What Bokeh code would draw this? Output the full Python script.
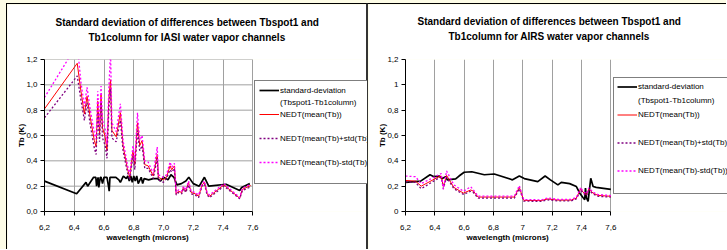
from bokeh.plotting import figure
from bokeh.models import FixedTicker, Legend, LegendItem, Title, Range1d
from bokeh.layouts import row
from bokeh.embed import file_html
from bokeh.resources import INLINE

FONT = "Liberation Sans"

# ---------------- IASI (left) ----------------
iasi_title = ["Standard deviation of differences between Tbspot1 and",
              "Tb1column for IASI water vapor channels"]
iasi_sd_w = [6.20, 6.416, 6.479, 6.49, 6.53, 6.545, 6.55, 6.56, 6.565, 6.575, 6.58, 6.59,
             6.60, 6.61, 6.62, 6.63, 6.635, 6.64, 6.65, 6.68, 6.70, 6.71, 6.73, 6.75, 6.76,
             6.77, 6.78, 6.79, 6.80, 6.81, 6.82, 6.83, 6.85, 6.86, 6.87, 6.90, 6.93, 6.96,
             6.98, 7.00, 7.03, 7.05, 7.07, 7.09, 7.12, 7.15, 7.17, 7.20, 7.24, 7.275, 7.304,
             7.42, 7.512, 7.525, 7.58]
iasi_sd = [0.24, 0.14, 0.23, 0.20, 0.27, 0.27, 0.20, 0.27, 0.19, 0.27, 0.27, 0.22,
           0.27, 0.27, 0.27, 0.20, 0.16, 0.27, 0.27, 0.27, 0.25, 0.23, 0.28, 0.26, 0.28,
           0.24, 0.28, 0.23, 0.28, 0.24, 0.28, 0.22, 0.27, 0.22, 0.26, 0.25, 0.26, 0.26,
           0.24, 0.27, 0.25, 0.29, 0.27, 0.21, 0.22, 0.24, 0.27, 0.22, 0.20, 0.27, 0.20,
           0.215, 0.165, 0.19, 0.22]
iasi_w = [6.20, 6.42, 6.445, 6.468, 6.486, 6.508, 6.535, 6.547, 6.558, 6.57, 6.58, 6.59,
          6.608, 6.62, 6.633, 6.644, 6.653, 6.682, 6.71, 6.728, 6.757, 6.773, 6.795, 6.807,
          6.825, 6.84, 6.856, 6.874, 6.897, 6.931, 6.958, 6.965, 6.999, 7.02, 7.044, 7.055,
          7.073, 7.085, 7.10, 7.123, 7.134, 7.15, 7.168, 7.186, 7.213, 7.236, 7.259, 7.275,
          7.293, 7.309, 7.406, 7.512, 7.53, 7.586]
iasi_nedt = [0.81, 1.17, 0.95, 0.77, 0.91, 0.74, 0.56, 0.51, 0.87, 0.61, 0.92, 0.66,
             0.59, 0.48, 0.90, 1.04, 0.64, 0.59, 0.78, 0.52, 0.34, 0.27, 0.48, 0.37,
             0.70, 0.52, 0.56, 0.37, 0.36, 0.28, 0.45, 0.27, 0.25, 0.27, 0.36, 0.33,
             0.36, 0.14, 0.16, 0.15, 0.19, 0.16, 0.23, 0.15, 0.14, 0.12, 0.21, 0.23,
             0.14, 0.12, 0.21, 0.105, 0.175, 0.205]
iasi_plus = [0.74, 1.07, 0.88, 0.72, 0.86, 0.68, 0.50, 0.45, 0.80, 0.55, 0.86, 0.58,
             0.52, 0.42, 0.82, 0.97, 0.58, 0.55, 0.72, 0.48, 0.31, 0.25, 0.44, 0.33,
             0.64, 0.48, 0.52, 0.34, 0.34, 0.26, 0.42, 0.25, 0.23, 0.26, 0.33, 0.31,
             0.34, 0.13, 0.15, 0.14, 0.18, 0.15, 0.21, 0.14, 0.13, 0.11, 0.20, 0.22,
             0.13, 0.11, 0.20, 0.10, 0.165, 0.195]
iasi_minus = [0.90, 1.32, 1.02, 0.83, 0.98, 0.80, 0.62, 0.57, 0.95, 0.67, 0.99, 0.72,
              0.65, 0.53, 0.98, 1.26, 0.70, 0.63, 0.85, 0.56, 0.37, 0.29, 0.52, 0.40,
              0.78, 0.56, 0.60, 0.40, 0.39, 0.30, 0.51, 0.29, 0.27, 0.29, 0.39, 0.35,
              0.38, 0.15, 0.17, 0.16, 0.20, 0.17, 0.24, 0.16, 0.15, 0.13, 0.22, 0.24,
              0.15, 0.13, 0.22, 0.11, 0.185, 0.215]
iasi_xticks = [6.2, 6.4, 6.6, 6.8, 7.0, 7.2, 7.4, 7.6]
iasi_xlabels = ["6,2", "6,4", "6,6", "6,8", "7,0", "7,2", "7,4", "7,6"]
iasi_yticks = [0.0, 0.2, 0.4, 0.6, 0.8, 1.0, 1.2]
iasi_ylabels = ["0,0", "0,2", "0,4", "0,6", "0,8", "1,0", "1,2"]

# ---------------- AIRS (right) ----------------
airs_title = ["Standard deviation of differences between Tbspot1 and",
              "Tb1column for AIRS water vapor channels"]
airs_sd_w = [6.20, 6.303, 6.367, 6.394, 6.428, 6.45, 6.474, 6.485, 6.542, 6.565, 6.60,
             6.652, 6.737, 6.805, 6.93, 6.976, 7.01, 7.102, 7.152, 7.188, 7.239, 7.262,
             7.319, 7.365, 7.388, 7.41, 7.422, 7.427, 7.434, 7.445, 7.463, 7.479, 7.50, 7.60]
airs_sd = [0.23, 0.24, 0.29, 0.275, 0.28, 0.26, 0.275, 0.25, 0.257, 0.28, 0.31,
           0.314, 0.29, 0.296, 0.25, 0.28, 0.26, 0.236, 0.28, 0.25, 0.21, 0.23,
           0.22, 0.197, 0.145, 0.11, 0.094, 0.185, 0.107, 0.08, 0.262, 0.197, 0.19, 0.174]
airs_w = [6.20, 6.268, 6.307, 6.428, 6.444, 6.458, 6.48, 6.53, 6.595, 6.645, 6.663,
          6.695, 6.942, 6.976, 7.006, 7.125, 7.17, 7.239, 7.33, 7.365, 7.395, 7.41,
          7.434, 7.45, 7.479, 7.513, 7.60]
airs_nedt = [0.245, 0.24, 0.20, 0.275, 0.28, 0.197, 0.285, 0.19, 0.145, 0.17, 0.16,
             0.114, 0.114, 0.19, 0.088, 0.086, 0.099, 0.09, 0.09, 0.106, 0.18, 0.153,
             0.132, 0.177, 0.145, 0.127, 0.12]
airs_plus = [0.235, 0.23, 0.18, 0.265, 0.27, 0.18, 0.27, 0.18, 0.135, 0.16, 0.15,
             0.105, 0.105, 0.18, 0.082, 0.08, 0.092, 0.084, 0.084, 0.10, 0.17, 0.145,
             0.125, 0.168, 0.138, 0.12, 0.113]
airs_minus = [0.28, 0.275, 0.22, 0.29, 0.30, 0.175, 0.32, 0.21, 0.16, 0.195, 0.17,
              0.122, 0.122, 0.205, 0.094, 0.092, 0.106, 0.096, 0.096, 0.112, 0.19, 0.16,
              0.14, 0.186, 0.152, 0.134, 0.126]
airs_xticks = [6.2, 6.4, 6.6, 6.8, 7, 7.2, 7.4, 7.6]
airs_xlabels = ["6,2", "6,4", "6,6", "6,8", "7", "7,2", "7,4", "7,6"]
airs_yticks = [0, 0.2, 0.4, 0.6, 0.8, 1, 1.2]
airs_ylabels = ["0", "0,2", "0,4", "0,6", "0,8", "1", "1,2"]

legend_labels = ["standard-deviation", "(Tbspot1-Tb1column)", "NEDT(mean(Tb))",
                 "NEDT(mean(Tb)+std(Tb))", "NEDT(mean(Tb)-std(Tb))"]
x_axis_label = "wavelength (microns)"
y_axis_label = "Tb (K)"

X0, X1 = 6.2, 7.6


def make_chart(width, css_borders, border_left, border_top, border_bottom, data_px,
               title, title_offsets, spacer_standoff, xlabel_offset,
               sd_w, sd, w, nedt, plus, minus,
               xticks, xlabels, yticks, ylabels, hgrid,
               leg_loc, leg_row_h, leg_spacing, leg_pad, css):
    canvas_w = width - css_borders
    frame_px = canvas_w - border_left
    # the frame runs on to the chart's right edge so the legend sits beside the data area
    x_end = X0 + (X1 - X0) * frame_px / data_px
    p = figure(width=width, height=246, x_range=Range1d(X0, x_end), y_range=Range1d(0, 1.2),
               output_backend="svg", toolbar_location=None, title_location=None,
               min_border_left=border_left, min_border_right=0, min_border_top=border_top,
               min_border_bottom=border_bottom, styles=css)
    p.outline_line_color = None
    p.background_fill_color = "white"
    p.border_fill_color = "white"

    # panels above stack outward from the frame: spacer, title line 2, title line 1
    spacer = Title(text=" ", standoff=spacer_standoff, text_font=FONT,
                   text_font_size="10px")
    p.add_layout(spacer, "above")
    for text, off, so in ((title[1], title_offsets[1], 0), (title[0], title_offsets[0], 3.6)):
        t = Title(text=text, align="left", offset=off, standoff=so,
                  text_font=FONT, text_font_size="10px", text_font_style="bold",
                  text_color="black")
        p.add_layout(t, "above")

    for ax, ticks, labels in ((p.xaxis[0], xticks, xlabels), (p.yaxis[0], yticks, ylabels)):
        ax.ticker = FixedTicker(ticks=ticks)
        ax.major_label_overrides = dict(zip(ticks, labels))
        ax.major_label_text_font = FONT
        ax.major_label_text_font_size = "8px"
        ax.major_label_text_color = "black"
        ax.axis_line_color = "black"
        ax.major_tick_line_color = "black"
        ax.major_tick_out = 4
        ax.major_tick_in = 0
        ax.minor_tick_out = 0
        ax.minor_tick_in = 0
        ax.axis_label_text_font = FONT
        ax.axis_label_text_font_size = "8px"
        ax.axis_label_text_font_style = "bold"
        ax.axis_label_text_color = "black"
    p.xaxis.bounds = (X0, X1)
    p.yaxis.axis_label = y_axis_label
    p.xaxis.major_label_standoff = 9
    p.yaxis.major_label_standoff = 3
    p.yaxis.axis_label_standoff = -3

    # x-axis title centred under the data area (below the tick labels)
    xt = Title(text=x_axis_label, align="left", offset=xlabel_offset, standoff=0,
               vertical_align="top", text_font=FONT, text_font_size="8px",
               text_font_style="bold", text_color="black")
    p.add_layout(xt, "below")

    p.xgrid.grid_line_color = "#a0a0a0"
    p.ygrid.grid_line_color = None
    if hgrid:
        n = len(yticks)
        p.segment(x0=[X0] * n, x1=[X1] * n, y0=yticks, y1=yticks,
                  line_color="#a0a0a0", line_width=1)

    r_sd = p.line(sd_w, sd, line_color="black", line_width=1.7)
    r_nedt = p.line(w, nedt, line_color="#FF0000", line_width=1)
    r_plus = p.line(w, plus, line_color="#800080", line_width=1.3, line_dash="2 2")
    r_minus = p.line(w, minus, line_color="#FF00FF", line_width=1.3, line_dash="2 2")
    blank = p.line([], [], line_alpha=0)

    items = [
        LegendItem(label=legend_labels[0], renderers=[r_sd]),
        LegendItem(label=legend_labels[1], renderers=[blank]),
        LegendItem(label=legend_labels[2], renderers=[r_nedt]),
        LegendItem(label=" ", renderers=[blank]),
        LegendItem(label=legend_labels[3], renderers=[r_plus]),
        LegendItem(label=" ", renderers=[blank]),
        LegendItem(label=legend_labels[4], renderers=[r_minus]),
        LegendItem(label=" ", renderers=[blank]),
    ]
    leg = Legend(items=items, location=leg_loc, margin=0, padding=leg_pad,
                 spacing=leg_spacing, label_height=leg_row_h, glyph_height=leg_row_h,
                 glyph_width=20, label_standoff=1,
                 label_text_font=FONT, label_text_font_size="8px",
                 label_text_color="black",
                 border_line_color="black", border_line_width=1,
                 background_fill_color="white", background_fill_alpha=1)
    p.add_layout(leg, "center")
    return p


left = make_chart(361, 2, 37, 54, 36, 207,
                  iasi_title, (11, 44), 4.1, 62,
                  iasi_sd_w, iasi_sd, iasi_w, iasi_nedt, iasi_plus, iasi_minus,
                  iasi_xticks, iasi_xlabels, iasi_yticks, iasi_ylabels, True,
                  (210, 27), 10, 2, 4,
                  {"border-top": "1px solid black", "border-left": "1px solid black",
                   "border-right": "1px solid #333"})
right = make_chart(359, 1, 37, 55, 39, 204.7,
                   airs_title, (12, 43), 5.1, 61,
                   airs_sd_w, airs_sd, airs_w, airs_nedt, airs_plus, airs_minus,
                   airs_xticks, airs_xlabels, airs_yticks, airs_ylabels, False,
                   (208, 17), 11, 3, 3,
                   {"border-top": "1px solid black", "border-left": "1px solid #333"})

page = row(left, right)
page.styles = {"padding-left": "6px", "padding-top": "3px",
               "background-color": "#fdfce6"}
open("out.html", "w").write(file_html(page, INLINE))
